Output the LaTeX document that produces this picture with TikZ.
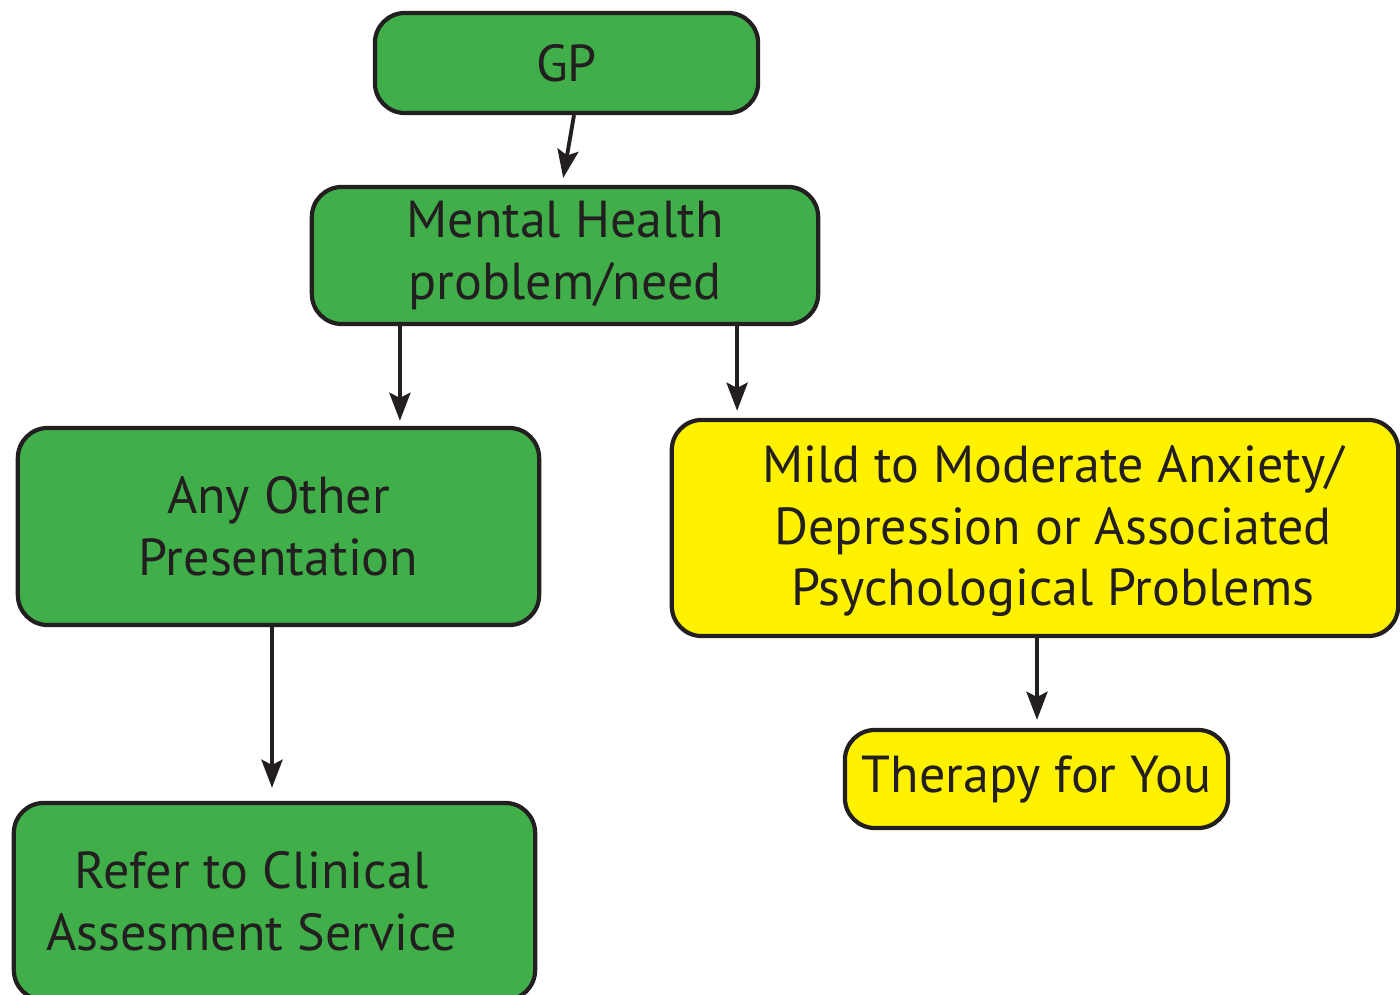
\documentclass[tikz,border=0pt]{standalone}
\usepackage{fontspec}
\setmainfont{PT Sans}
\usetikzlibrary{arrows.meta,positioning,calc}
\definecolor{boxgreen}{HTML}{40AF4A}
\definecolor{boxyellow}{HTML}{FFF200}
\definecolor{ink}{HTML}{231F20}

\begin{document}
\begin{tikzpicture}[x=0.01cm, y=-0.01cm,
  font=\fontsize{14.8}{17.6}\selectfont,
  box/.style={draw=ink, line width=1.2pt, rounded corners=0.3cm, align=center, text=ink, inner sep=0pt},
  greenbox/.style={box, fill=boxgreen},
  yellowbox/.style={box, fill=boxyellow},
  arr/.style={-{Stealth[length=8pt, width=6pt, inset=1.5pt]}, draw=ink, line width=1.1pt}]
\useasboundingbox (0,0) rectangle (1400,995);

\node[greenbox, minimum width=3.83cm, minimum height=1.0cm] (gp) at (566.5,63) {GP};
\node[greenbox, minimum width=5.06cm, minimum height=1.37cm] (mh) at (565,255.5) {Mental Health\\problem/need};
\node[greenbox, minimum width=5.21cm, minimum height=1.97cm] (other) at (278.5,526.5) {Any Other\\Presentation};
\node[yellowbox, minimum width=7.26cm, minimum height=2.16cm] (mild) at (1035,528) {};
\node[align=center, text=ink] (mildtxt) at ([xshift=0.18cm, yshift=-0.03cm]mild.center)
  {Mild to Moderate Anxiety/\\Depression or Associated\\Psychological Problems};
\node[yellowbox, minimum width=3.83cm, minimum height=0.98cm] (therapy) at (1036.5,779) {Therapy for You};
\node[greenbox, minimum width=5.21cm, minimum height=1.97cm] (refer) at (274.5,901.5) {};
\node[align=center, text=ink] (refertxt) at ([xshift=-0.23cm]refer.center)
  {Refer to Clinical\\Assesment Service};

% connectors
\draw[arr, shorten >=0.07cm] ([xshift=0.075cm]gp.south) -- ([xshift=-0.03cm]mh.north);
\draw[arr, shorten >=0.05cm] ([xshift=-1.65cm]mh.south) -- ([xshift=-1.65cm]mh.south |- other.north);
\draw[arr, shorten >=0.07cm] ([xshift=1.72cm]mh.south) -- ([xshift=1.72cm]mh.south |- mild.north);
\draw[arr, shorten >=0.13cm] ([xshift=-0.065cm]other.south) -- ([xshift=-0.065cm]other.south |- refer.north);
\draw[arr, shorten >=0.08cm] ([xshift=0.02cm]mild.south) -- ([xshift=0.02cm]mild.south |- therapy.north);
\end{tikzpicture}
\end{document}
